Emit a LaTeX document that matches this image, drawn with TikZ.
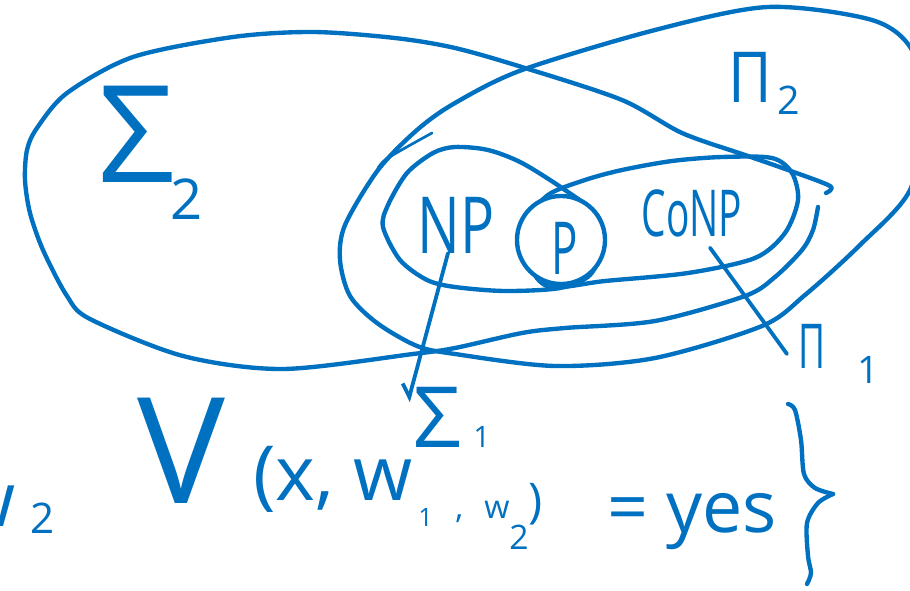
\documentclass[tikz,border=0pt]{standalone}
\usepackage{fontspec}
\setmainfont{Open Sans}
\usepackage{graphicx}
\usetikzlibrary{arrows.meta}
\definecolor{ink}{RGB}{0,112,192}
\newcommand{\lowidx}[3]{\raisebox{-#2}{\fontsize{#1}{#1}\selectfont #3}}

\begin{document}
\begin{tikzpicture}[x=0.025cm,y=-0.025cm,
  region/.style={ink,line width=3.1pt,line cap=round,line join=round},
  hand/.style={ink,inner sep=0pt,outer sep=0pt},
  link/.style={ink,line width=2.7pt,line cap=round}]
\useasboundingbox (0,0) rectangle (910,591);
% Sigma_2 and Pi_2
\draw[region] plot[smooth] coordinates {(818,207) (813,230) (802,250) (775,277) (745,296) (655,321) (565,328) (522,333) (455,348) (413,354) (283,369) (183,356) (90,319) (67,296) (43,250) (30,213) (25,180) (27,150) (37,128) (67,93) (133,57) (233,37) (313,32) (395,38) (455,48) (525,68) (622,100) (682,133) (745,155) (788,170) (830,186) (826,193)};
\draw[region] plot[smooth cycle] coordinates {(522,70) (655,30) (768,7) (872,20) (912,50) (925,110) (910,190) (860,245) (805,295) (762,326) (655,358) (555,366) (455,354) (417,346) (377,323) (350,296) (340,260) (345,225) (378,170) (417,130) (455,103)};
\draw[region,line width=1.9pt] plot[smooth] coordinates {(432,133) (405,148) (385,160) (378,168)};
% Sigma_1, Pi_1 and P
\draw[region] plot[smooth cycle] coordinates {(455,147) (488,150) (522,163) (565,190) (597,215) (603,245) (590,275) (560,288) (505,291) (455,287) (427,280) (400,260) (383,227) (388,205) (407,173) (433,153)};
\draw[region] plot[smooth cycle] coordinates {(548,195) (585,180) (622,170) (672,161) (722,157) (772,158) (792,173) (798,200) (785,233) (755,258) (688,273) (605,281) (550,287) (530,265) (528,222)};
\node[region,draw,circle,fill=white,minimum size=2.2cm,inner sep=0pt] (pset) at (561,240) {};
\node[hand,font=\fontsize{52}{52}\selectfont] (plabel) at ([shift={(4,8)}]pset.center) {\scalebox{0.6}[1]{P}};
% class labels
\node[hand,anchor=base west,font=\fontsize{96}{96}\selectfont] (sig2) at (98,182) {Σ\hspace{-3pt}\lowidx{40pt}{27pt}{2}};
\node[hand,anchor=base west,font=\fontsize{50}{50}\selectfont] (pi2) at (728,103) {\scalebox{0.85}[1]{Π}\hspace{4pt}\lowidx{28pt}{8.5pt}{2}};
\node[hand,font=\fontsize{56}{56}\selectfont] (np) at (456,225) {\scalebox{0.72}[1]{NP}};
\node[hand,font=\fontsize{46}{46}\selectfont] (conp) at (692,213) {\scalebox{0.6}[1]{CoNP}};
\node[hand,anchor=base west,font=\fontsize{60}{60}\selectfont] (sig1) at (413,447) {Σ\hspace{9pt}\lowidx{21pt}{0pt}{1}};
\node[hand,anchor=base west,font=\fontsize{44}{44}\selectfont] (pi1) at (798,368) {\scalebox{0.6}[1]{Π}\hspace{23pt}\lowidx{27pt}{10.7pt}{1}};
\draw[link,-{Straight Barb[right,length=8pt,width=14pt]}] ([xshift=-0.2cm]np.south) -- ([shift={(-5,15)}]sig1.north west);
\draw[link] ([shift={(18,11)}]conp.south) -- ([shift={(-11,-29)}]pi1.south west);
% verifier condition
\node[hand,anchor=base west,font=\fontsize{54}{54}\selectfont] (wtwo) at (-43,526) {w\hspace{10pt}\lowidx{30pt}{5pt}{2}};
\node[hand,anchor=base west,font=\fontsize{105}{105}\selectfont] (verif) at (137,503) {V};
\node[hand,anchor=base west,font=\fontsize{54}{54}\selectfont] (args) at (253,500) {(x, w\hspace{4pt}\lowidx{18pt}{18.5pt}{1}\hspace{16pt}\lowidx{23pt}{13pt}{,\hspace{15pt}w}\lowidx{24pt}{35pt}{2}\lowidx{34pt}{12.5pt}{)}};
\node[hand,anchor=base west,font=\fontsize{51}{51}\selectfont] (eqyes) at (607,532) {= yes};
\draw[region] plot[smooth] coordinates {(788,404) (795,410) (801,440) (804,474) (815,488) (833,494)};
\draw[region] plot[smooth] coordinates {(833,494) (818,503) (807,523) (808,556) (811,573) (807,584)};
\end{tikzpicture}
\end{document}
